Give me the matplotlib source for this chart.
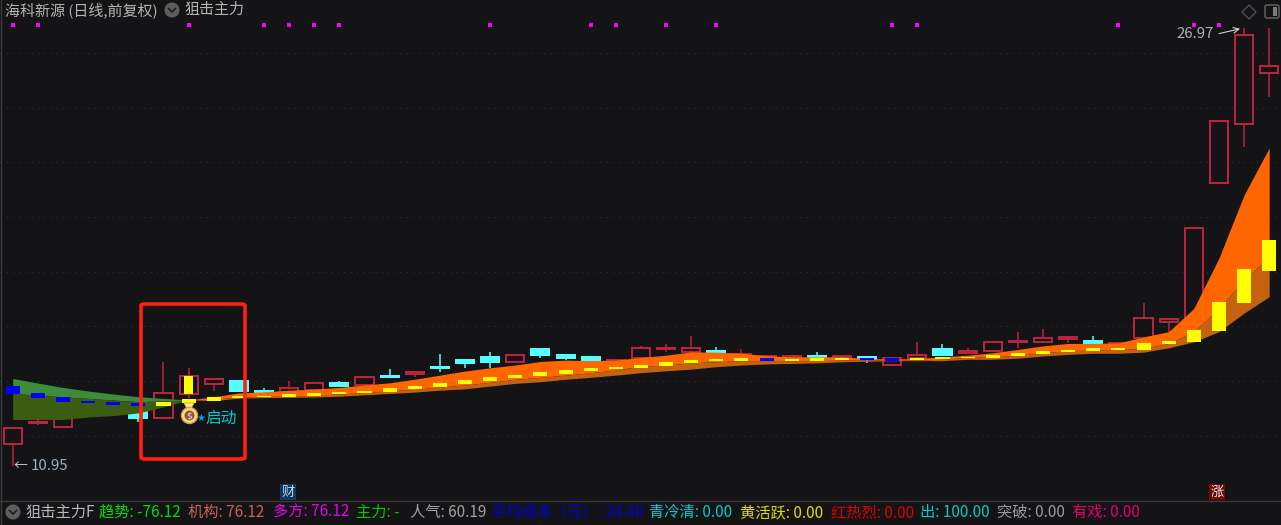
import numpy as np
import matplotlib
matplotlib.use('Agg')
import matplotlib.pyplot as plt
from matplotlib.patches import Rectangle, Circle, Polygon, FancyBboxPatch

plt.rcParams['font.family'] = ['Noto Sans CJK SC', 'DejaVu Sans']

W, H = 1281, 525

# daily prices
opens = [11.75, 12.52, 12.39, 12.82, 12.93, 13.08, 12.72, 13.58, 13.95, 14.07, 13.71, 13.62, 13.73,
         13.98, 13.92, 14.26, 14.32, 14.58, 14.84, 14.94, 14.77, 15.22, 15.03, 14.94, 14.81, 14.90,
         15.23, 15.13, 15.16, 15.03, 14.83, 14.94, 14.98, 14.95, 14.94, 14.64, 14.90, 15.22, 15.10,
         15.16, 15.50, 15.50, 15.60, 15.54, 15.42, 15.64, 16.23, 15.93, 21.32, 23.46, 25.34]
closes = [12.33, 12.56, 12.75, 13.00, 13.19, 12.70, 13.63, 14.25, 14.15, 13.70, 13.66, 13.80, 13.98,
          13.89, 14.20, 14.23, 14.39, 14.55, 14.72, 14.77, 15.03, 15.00, 14.90, 14.81, 14.84, 15.26,
          15.26, 15.26, 15.12, 15.07, 14.98, 14.98, 14.94, 14.99, 14.88, 14.90, 15.03, 15.03, 15.17,
          15.48, 15.53, 15.65, 15.66, 15.44, 15.46, 16.36, 16.34, 19.65, 23.57, 26.72, 25.59]
highs = [12.33, 12.71, 12.85, 13.10, 13.30, 13.08, 14.76, 14.56, 14.15, 14.07, 13.80, 14.07, 14.03,
         14.07, 14.20, 14.49, 14.39, 15.04, 14.84, 15.12, 15.03, 15.22, 15.03, 14.94, 14.84, 15.34,
         15.42, 15.72, 15.30, 15.22, 14.98, 14.98, 15.12, 14.99, 14.99, 14.90, 15.48, 15.41, 15.26,
         15.48, 15.86, 15.95, 15.66, 15.72, 15.46, 16.91, 16.34, 19.65, 23.57, 26.97, 26.97]
lows = [10.95, 12.45, 12.39, 12.75, 12.85, 12.56, 12.67, 13.44, 13.71, 13.70, 13.61, 13.62, 13.73,
        13.85, 13.92, 14.17, 14.22, 14.40, 14.53, 14.56, 14.77, 14.90, 14.83, 14.81, 14.81, 14.90,
        15.13, 15.13, 15.12, 15.03, 14.83, 14.67, 14.94, 14.95, 14.71, 14.64, 14.90, 14.98, 15.10,
        15.16, 15.26, 15.45, 15.46, 15.44, 15.42, 15.64, 15.87, 15.93, 21.32, 22.63, 24.46]

# indicator band: upper edge, split line, lower edge
band_top = [14.16, 13.99, 13.83, 13.70, 13.59, 13.49, 13.43, 13.37, 13.49, 13.63, 13.67, 13.73, 13.77,
            13.83, 13.92, 14.00, 14.13, 14.28, 14.43, 14.55, 14.65, 14.78, 14.83, 14.81, 14.83, 14.93,
            15.01, 15.13, 15.12, 15.08, 14.99, 14.95, 14.95, 14.95, 14.89, 14.87, 14.89, 14.95, 15.01,
            15.10, 15.22, 15.35, 15.44, 15.44, 15.46, 15.68, 15.87, 16.72, 18.56, 20.87, 22.59]
band_mid = [13.61, 13.55, 13.49, 13.43, 13.37, 13.31, 13.34, 13.37, 13.40, 13.48, 13.50, 13.51, 13.55,
            13.59, 13.65, 13.71, 13.76, 13.85, 13.92, 14.02, 14.13, 14.20, 14.28, 14.37, 14.47, 14.61,
            14.65, 14.73, 14.77, 14.81, 14.81, 14.81, 14.81, 14.83, 14.83, 14.83, 14.83, 14.86, 14.93,
            14.95, 15.01, 15.10, 15.17, 15.20, 15.23, 15.26, 15.44, 15.87, 16.73, 17.76, 18.61]
band_low = [12.66, 12.66, 12.66, 12.75, 12.80, 12.90, 13.12, 13.37, 13.35, 13.44, 13.46, 13.47, 13.48,
            13.51, 13.56, 13.61, 13.66, 13.73, 13.78, 13.88, 13.98, 14.04, 14.13, 14.20, 14.28, 14.37,
            14.44, 14.50, 14.59, 14.65, 14.69, 14.71, 14.73, 14.77, 14.79, 14.81, 14.81, 14.81, 14.86,
            14.86, 14.90, 14.98, 15.04, 15.08, 15.08, 15.12, 15.28, 15.50, 15.87, 16.55, 17.15]

# short thick sticks on each day
stick_top = [13.88, 13.62, 13.48, 13.34, 13.29, 13.25, 13.29, 13.39, 13.48, 13.53, 13.53, 13.58, 13.61,
             13.66, 13.71, 13.80, 13.88, 13.98, 14.11, 14.20, 14.29, 14.39, 14.48, 14.53, 14.58, 14.65,
             14.76, 14.84, 14.86, 14.89, 14.89, 14.86, 14.89, 14.89, 14.92, 14.89, 14.90, 14.94, 14.95,
             15.03, 15.08, 15.16, 15.21, 15.26, 15.27, 15.44, 15.54, 15.94, 16.95, 18.15, 19.23]
stick_bot = [13.59, 13.43, 13.29, 13.25, 13.20, 13.16, 13.16, 13.25, 13.34, 13.44, 13.48, 13.48, 13.53,
             13.58, 13.62, 13.66, 13.76, 13.84, 13.94, 14.07, 14.16, 14.26, 14.34, 14.44, 14.49, 14.53,
             14.62, 14.71, 14.81, 14.81, 14.81, 14.81, 14.81, 14.84, 14.84, 14.81, 14.82, 14.86, 14.90,
             14.90, 14.99, 15.04, 15.12, 15.17, 15.21, 15.21, 15.41, 15.49, 15.90, 16.92, 18.10]
blue_days = [0, 1, 2, 3, 4, 5, 30, 34, 35]

grid_levels = [26.06, 24.06, 22.06, 20.06, 18.06, 16.06, 14.06, 12.06]
marker_days = [0, 1, 7, 10, 11, 12, 13, 19, 23, 24, 26, 28, 35, 36, 44, 47, 48]

status_items = [
    (25, '狙击主力F', '#b8b8b8'), (99, '趋势: -76.12', '#00dd00'), (188, '机构: 76.12', '#c8625a'),
    (273, '多方: 76.12', '#ee00ee'), (356, '主力: -', '#00cc00'), (410, '人气: 60.19', '#a0a0a0'),
    (491, '平均成本（元）: 24.40', '#0000dd'), (649, '青冷清: 0.00', '#00cccc'), (740, '黄活跃: 0.00', '#dddd00'),
    (831, '红热烈: 0.00', '#dd0000'), (920, '出: 100.00', '#00cccc'), (997, '突破: 0.00', '#999999'),
    (1072, '有戏: 0.00', '#e00070'),
]

BG = '#141416'
RED = '#b8233f'
CYAN = '#55ffff'

fig = plt.figure(figsize=(W / 100, H / 100), dpi=100, facecolor=BG)
ax = fig.add_axes([0, 0, 1, 1], facecolor=BG)
ax.set_xlim(-0.505, 50.47)
ax.set_ylim(8.80, 28.0)
ax.axis('off')

days = np.arange(len(opens))
px = fig.transFigure


def fx(x):
    return x / W


def fy(y):
    return 1 - y / H


for level in grid_levels:
    ax.axhline(level, color='#2c2c2e', lw=0.9, ls=(0, (1, 4)), zorder=1)

# candles
for i in days:
    up = closes[i] >= opens[i]
    col = RED if up else CYAN
    top, bot = max(opens[i], closes[i]), min(opens[i], closes[i])
    ax.vlines(i, bot, highs[i], color=col, lw=1.1, zorder=2)
    ax.vlines(i, lows[i], top, color=col, lw=1.1, zorder=2)
    ax.add_patch(Rectangle((i - 0.36, bot), 0.72, top - bot, facecolor=BG if up else CYAN,
                           edgecolor=col, lw=1.1, zorder=3, antialiased=False))

# band, green before the turn and orange after it
ax.fill_between(days[:8], band_mid[:8], band_top[:8], color='#3c8c3c', lw=0, zorder=4, antialiased=False)
ax.fill_between(days[:8], band_low[:8], band_mid[:8], color='#3c5c10', lw=0, zorder=4, antialiased=False)
ax.fill_between(days[7:], band_mid[7:], band_top[7:], color='#ff6600', lw=0, zorder=4, antialiased=False)
ax.fill_between(days[7:], band_low[7:], band_mid[7:], color='#c46210', lw=0, zorder=4, antialiased=False)

# sticks
for i in days:
    col = '#0000ff' if i in blue_days else '#ffff00'
    ax.add_patch(Rectangle((i - 0.28, stick_bot[i]), 0.56, stick_top[i] - stick_bot[i], facecolor=col,
                           lw=0, zorder=5, antialiased=False))
ax.add_patch(Rectangle((7 - 0.17, closes[7] - 0.67), 0.34, 0.67, facecolor='#ffff00', lw=0, zorder=5))

# magenta markers along the top
ax.scatter(days[marker_days], [27.09] * len(marker_days), s=9, marker='s', color='#ff00ff', lw=0, zorder=6)

# price labels
fig.text(fx(31), fy(466), '10.95', color='#9fb0c0', fontsize=10.8, va='center')
fig.text(fx(14), fy(466), '←', color='#c8c8c8', fontsize=10, ha='left', va='center')
fig.text(fx(1176), fy(34), '26.97', color='#a8b4bc', fontsize=10.8, va='center')
ax.annotate('', xy=(49 - 0.05, 26.97), xytext=(47.9, 26.75), zorder=7,
            arrowprops=dict(arrowstyle='->', color='#d0d0d0', lw=0.8))

# red selection box
fig.add_artist(FancyBboxPatch((fx(141), fy(459)), 104 / W, 155 / H, boxstyle='round,pad=0,rounding_size=0.003',
                              edgecolor='#ff2010', facecolor='none', lw=2.6, transform=px))

# money bag and start label
ax_bag = fig.add_axes([0, 0, 1, 1], facecolor='none')
ax_bag.set_xlim(0, W)
ax_bag.set_ylim(H, 0)
ax_bag.axis('off')
ax_bag.add_patch(Polygon([[184, 403], [194, 403], [191, 409], [187, 409]], facecolor='#ffe9a0', edgecolor='#d8a030', lw=0.6))
ax_bag.add_patch(Circle((189.5, 415.5), 8, facecolor='#f6dc8c', edgecolor='#e0a030', lw=1))
ax_bag.add_patch(Circle((189.5, 415.5), 5, facecolor='#9a5040', lw=0))
ax_bag.text(189.5, 415.5, '$', color='#f0e0c0', fontsize=6.5, ha='center', va='center', family='DejaVu Sans')
ax_bag.text(196, 418, '★', color='#00a8d8', fontsize=7, ha='left', va='center', family='DejaVu Sans')
ax_bag.text(205.5, 418, '启动', color='#00cccc', fontsize=11.3, ha='left', va='center')

# header
ax_bag.text(5, 10, '海科新源 (日线,前复权)', color='#b4b4b4', fontsize=10.8, va='center')
ax_bag.text(184, 10, '狙击主力', color='#b4b4b4', fontsize=10.8, va='center')
for cx, cy in [(172, 10), (13, 512)]:
    ax_bag.add_patch(Circle((cx, cy), 7.5, facecolor='#5e5e5e', lw=0))
    ax_bag.plot([cx - 3.5, cx, cx + 3.5], [cy - 1.5, cy + 2, cy - 1.5], color='#1c1c1c', lw=1.2)

# top right icons
ax_bag.add_patch(Polygon([[1249, 5], [1256, 12], [1249, 19], [1242, 12]], facecolor='none', edgecolor='#4c4c4c', lw=1))
ax_bag.add_patch(FancyBboxPatch((1265, 5), 14, 13, boxstyle='round,pad=0,rounding_size=2', facecolor='none', edgecolor='#5a5a5a', lw=1.2))
ax_bag.add_patch(Rectangle((1273, 7), 4, 9, facecolor='#7a7a7a', lw=0))

# bottom tags and status bar
ax_bag.plot([0, W], [501, 501], color='#3a3a3c', lw=1)
ax_bag.plot([0.5, 0.5], [0, H], color='#3a3a3c', lw=1)
ax_bag.text(288, 492, '财', color='#c8d8e8', fontsize=9.5, ha='center', va='center',
            bbox=dict(facecolor='#103860', edgecolor='none', pad=1.2))
ax_bag.text(1217, 492, '涨', color='#eeeeee', fontsize=9.5, ha='center', va='center',
            bbox=dict(facecolor='#700808', edgecolor='none', pad=1.2))
for x, label, col in status_items:
    ax_bag.text(x, 512.5, label, color=col, fontsize=11, va='center')

fig.savefig('out.png', dpi=100, facecolor=BG)
